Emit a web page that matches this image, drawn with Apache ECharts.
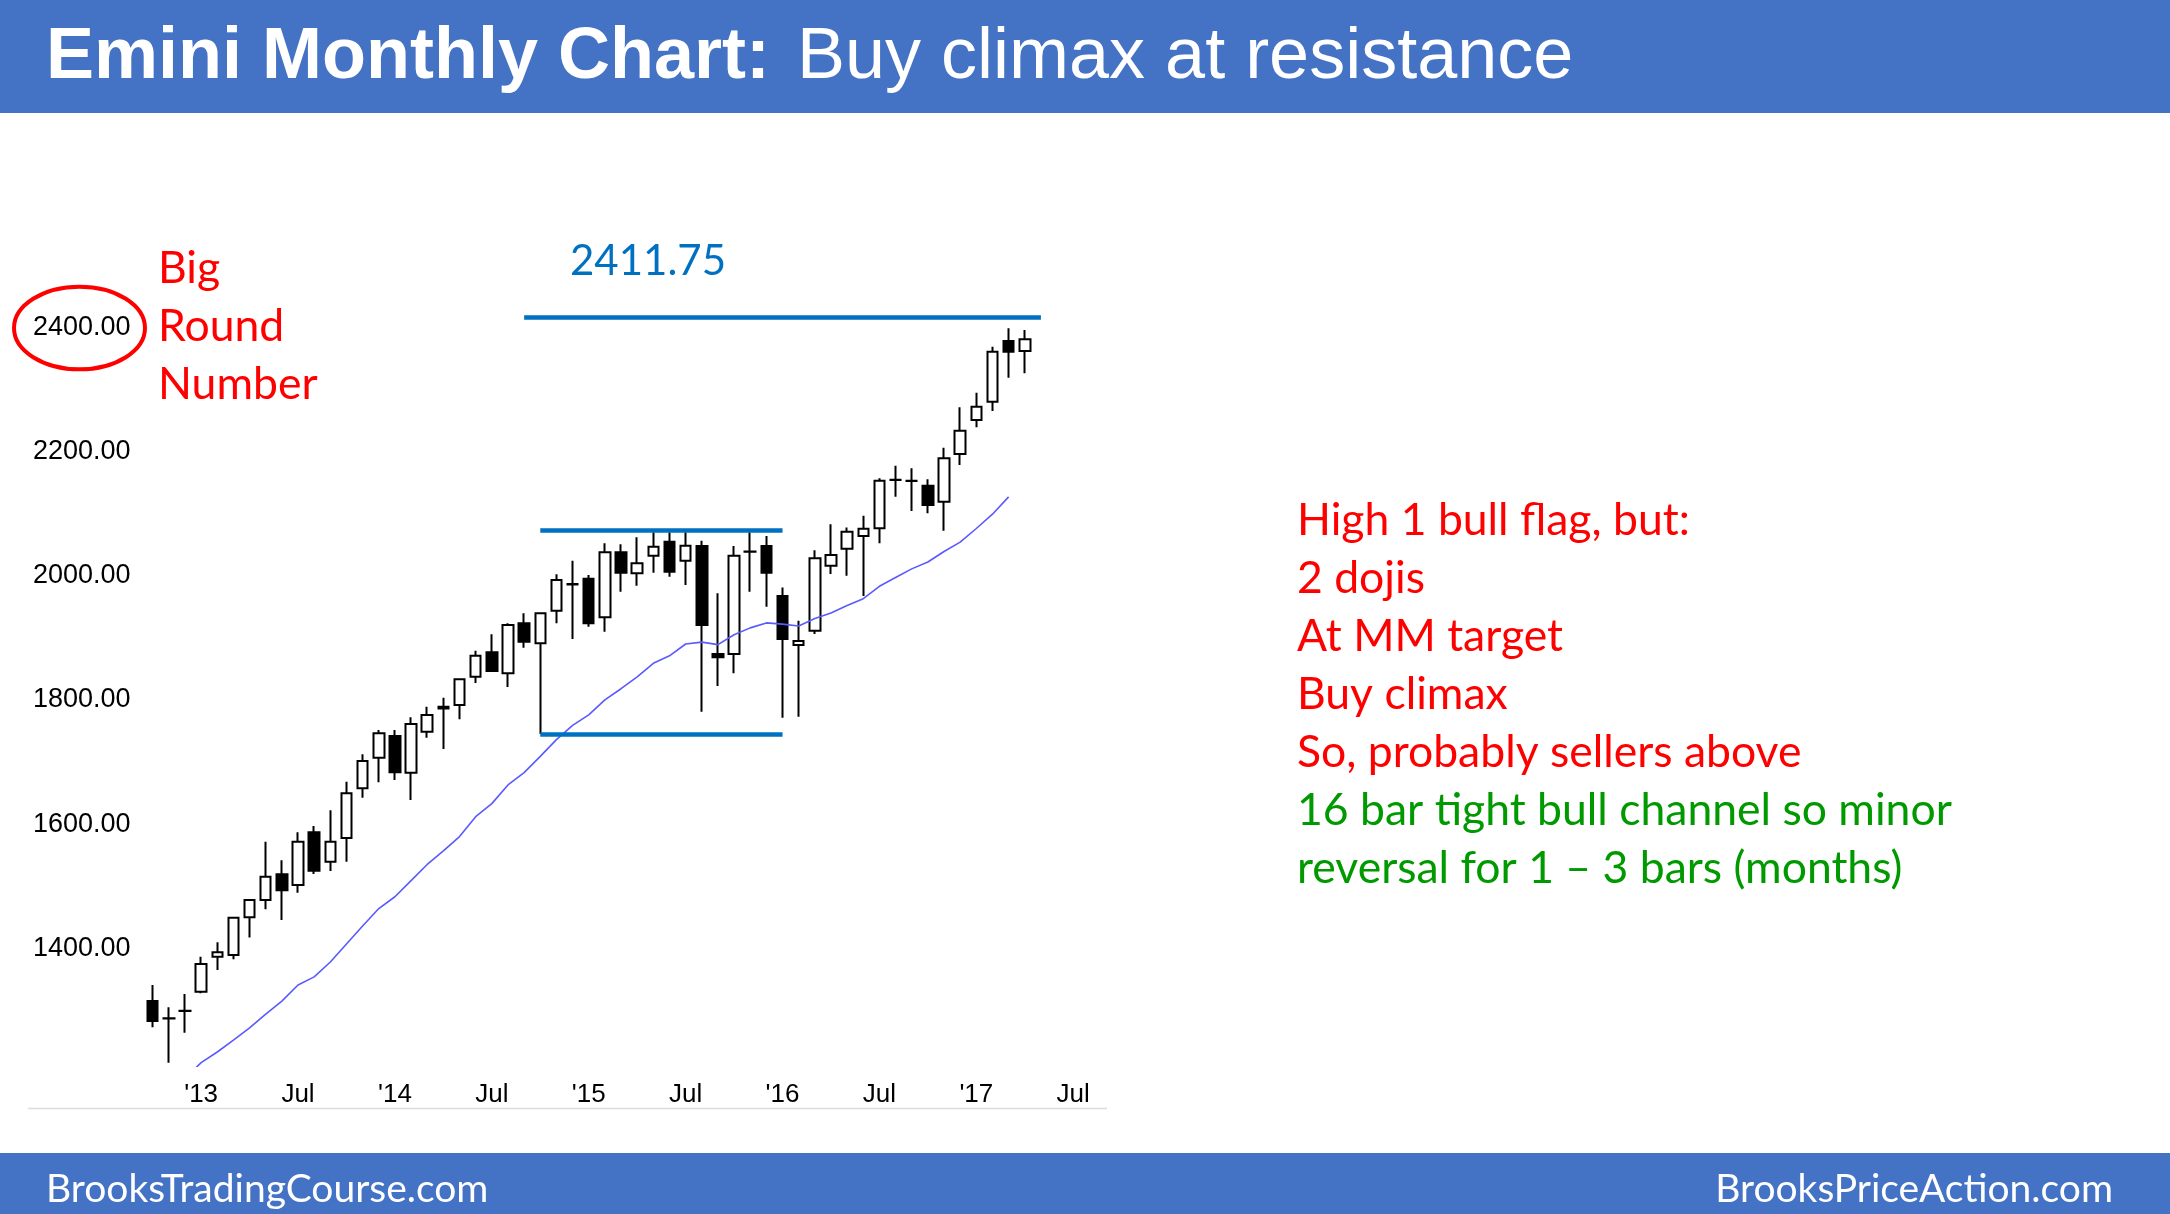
<!DOCTYPE html>
<html><head><meta charset="utf-8">
<script src="https://cdn.jsdelivr.net/npm/echarts@6/dist/echarts.min.js"></script>
<style>html,body{margin:0;padding:0;background:#fff}#c{width:2170px;height:1214px}</style>
</head><body><div id="c"></div>
<script>
// Monthly categories (Oct 2012 .. Sep 2017)
const months = ['2012-10','2012-11','2012-12',
 '2013-01','2013-02','2013-03','2013-04','2013-05','2013-06','2013-07','2013-08','2013-09','2013-10','2013-11','2013-12',
 '2014-01','2014-02','2014-03','2014-04','2014-05','2014-06','2014-07','2014-08','2014-09','2014-10','2014-11','2014-12',
 '2015-01','2015-02','2015-03','2015-04','2015-05','2015-06','2015-07','2015-08','2015-09','2015-10','2015-11','2015-12',
 '2016-01','2016-02','2016-03','2016-04','2016-05','2016-06','2016-07','2016-08','2016-09','2016-10','2016-11','2016-12',
 '2017-01','2017-02','2017-03','2017-04','2017-05','2017-06','2017-07','2017-08','2017-09'];
const xTickLabels = {'2013-01':"'13",'2013-07':'Jul','2014-01':"'14",'2014-07':'Jul','2015-01':"'15",'2015-07':'Jul',
 '2016-01':"'16",'2016-07':'Jul','2017-01':"'17",'2017-07':'Jul'};
const yTickLabels = [1400,1600,1800,2000,2200,2400];

const opens  = [1315.1,1287,1299,1330.1,1386.5,1389.2,1449.9,1477.8,1519.1,1501.9,1586.7,1539.5,1577.6,1657.6,1707.0,
 1741.9,1682.8,1748.9,1789,1791.8,1837.4,1876.6,1842.8,1923.3,1891.1,1943.7,1986.5,
 1995.2,1932.9,2037.6,2003.8,2032.2,2054.8,2024.2,2047.8,1873.9,1873.9,2038.5,2047.8,
 1967.3,1888.4,1911.5,2016.2,2043.5,2063.9,2076.3,2154,2152.5,2145.0,2119.2,2196.0,
 2250.7,2280.3,2378.0,2361.9];
const closes = [1282.9,1287.5,1299.5,1374.7,1393.5,1449.3,1477.8,1515.3,1493.3,1571.7,1525.0,1571.7,1649.6,1701.6,1746.2,
 1683.4,1761.2,1775.7,1786,1833.1,1871.3,1846.6,1920.6,1893.8,1939.4,1993.1,1986,
 1923.3,2037.6,2004.9,2019.9,2046.7,2006.5,2048.3,1920.6,1868.5,2032.2,2039,2004.9,
 1898.0,1894.8,2028.0,2033.3,2070.9,2075.5,2153.0,2154.5,2153,2113.9,2189.0,2233.6,
 2272.2,2360.8,2360.8,2380.6];
const lows   = [1272.7,1215.8,1264.1,1327.5,1365.0,1382.2,1417.6,1462.7,1445.6,1489.6,1519.6,1524.5,1539.5,1642.6,1667.3,
 1671.0,1638.8,1739.2,1720.9,1768.7,1827.2,1845.0,1820.8,1884.1,1745,1923.3,1898.0,
 1917.9,1909.9,1974.3,1983.9,2004.9,1998.4,1985.0,1781.0,1822.4,1842.8,1974.3,1950.1,
 1771.4,1773.0,1906.1,2002.7,2000,1967.3,2052.1,2127.3,2104.2,2100.4,2072.5,2178.3,
 2238.9,2265.2,2318.9,2325.9];
const highs  = [1340.9,1304.9,1326.4,1386.5,1409.6,1450.9,1479.4,1571.7,1541.6,1586.7,1596.9,1622.2,1668.3,1712.4,1751.6,
 1751.6,1772.0,1789.1,1803.6,1834.5,1879.3,1905.6,1923.3,1939.4,1940.5,2002.2,2024.2,
 2001.1,2052.1,2050.5,2061.8,2070,2070,2070,2056.4,1971.6,2047.8,2070,2063.9,
 1981.2,1927.6,2041.0,2082.9,2077.5,2096.7,2156.8,2177.2,2172.9,2155.2,2206.2,2271.1,
 2294.8,2368.8,2398.4,2395.7];
// 20-bar moving average as drawn
const ma20 = [null,null,1190,1216,1233,1252,1272,1294,1315,1341,1354,1378,1407,1436,1464,
 1483,1509,1535,1557,1580,1612,1633,1663,1683,1709,1736,1759,
 1776,1800,1818,1837,1859,1871,1890,1893,1889,1905,1916,1924,
 1922,1919,1931,1940,1952,1963,1983,1997,2011,2022,2039,2054,
 2076,2099,2127,null];

// annotation lines
const resistanceLine = {value: 2416, from: 23, to: 55.35};
const rangeTop = {value: 2073.6, from: 24, to: 39.1};
const rangeBottom = {value: 1745, from: 24, to: 39.1};
const resistanceText = '2411.75';
const roundNumberText = ['Big','Round','Number'];
const redNotes = ['High 1 bull flag, but:','2 dojis','At MM target','Buy climax','So, probably sellers above'];
const greenNotes = ['16 bar tight bull channel so minor','reversal for 1 \u2013 3 bars (months)'];

const candles = opens.map((o,i)=>[o, closes[i], lows[i], highs[i]]);
const seg = d => [{coord:[d.from, d.value]}, {coord:[d.to, d.value]}];

const BLUE = '#0070C0', BAR = '#4472C4';
const noteFont = '44.5px Lato';
const footFont = '39px Lato';
const graphics = [
  {type:'rect', shape:{x:0,y:0,width:2170,height:113}, style:{fill:BAR}, z:10},
  {type:'rect', shape:{x:0,y:1153,width:2170,height:61}, style:{fill:BAR}, z:10},
  {type:'text', x:46, y:58, z:11, style:{text:'Emini Monthly Chart:', fill:'#fff', font:'bold 72px "Liberation Sans", Arial', textVerticalAlign:'middle'}},
  {type:'text', x:797, y:58, z:11, style:{text:'Buy climax at resistance', fill:'#fff', font:'72px "Liberation Sans", Arial', textVerticalAlign:'middle'}},
  {type:'text', x:46, y:1189, z:11, style:{text:'BrooksTradingCourse.com', fill:'#fff', font:footFont, textVerticalAlign:'middle'}},
  {type:'text', x:2113, y:1189, z:11, style:{text:'BrooksPriceAction.com', fill:'#fff', font:footFont, textAlign:'right', textVerticalAlign:'middle'}},
  {type:'line', shape:{x1:28,y1:1108.5,x2:1107,y2:1108.5}, style:{stroke:'#dcdcdc', lineWidth:1.5}},
  {type:'ellipse', shape:{cx:79.5, cy:328, rx:65.5, ry:41.3}, style:{fill:null, stroke:'#ff0000', lineWidth:4}, z:5},
  {type:'text', x:570, y:261.6, style:{text:resistanceText, fill:BLUE, font:'42px Lato', textVerticalAlign:'middle'}}
];
roundNumberText.forEach((t,i)=>graphics.push({type:'text', x:158, y:269+i*58, style:{text:t, fill:'#ff0000', font:noteFont, textVerticalAlign:'middle'}}));
redNotes.forEach((t,i)=>graphics.push({type:'text', x:1297, y:520.5+i*58.1, style:{text:t, fill:'#ff0000', font:noteFont, textVerticalAlign:'middle'}}));
greenNotes.forEach((t,i)=>graphics.push({type:'text', x:1297, y:520.5+(i+5)*58.1, style:{text:t, fill:'#009a00', font:noteFont, textVerticalAlign:'middle'}}));

const chart = echarts.init(document.getElementById('c'), null, {renderer:'canvas'});
chart.setOption({
  animation:false,
  backgroundColor:'#ffffff',
  grid:{left:144.6, right:1056.4, top:265.2, bottom:147.7, outerBoundsMode:'none'},
  xAxis:{type:'category', data:months, boundaryGap:true,
    axisLine:{show:false}, axisTick:{show:false}, splitLine:{show:false},
    axisLabel:{interval:0, margin:16, color:'#000', fontSize:26, fontFamily:'"Liberation Sans", Arial',
      formatter:v=>xTickLabels[v]||''}},
  yAxis:{type:'value', min:1210, max:2500, interval:10, scale:true,
    axisLine:{show:false}, axisTick:{show:false}, splitLine:{show:false},
    axisLabel:{margin:14, color:'#000', fontSize:27, fontFamily:'"Liberation Sans", Arial',
      formatter:v=>{const r=Math.round(v); return yTickLabels.indexOf(r)>=0 ? r.toFixed(2) : '';}}},
  series:[
    {type:'candlestick', data:candles, barWidth:11, z:3,
      itemStyle:{color:'#ffffff', color0:'#000000', borderColor:'#000000', borderColor0:'#000000', borderWidth:2},
      markLine:{symbol:['none','none'], silent:true, label:{show:false}, z:6,
        lineStyle:{color:BLUE, width:4.5, type:'solid'},
        data:[seg(resistanceLine), seg(rangeTop), seg(rangeBottom)]}},
    {type:'line', data:ma20, showSymbol:false, symbol:'none', z:4, clip:true,
      lineStyle:{color:'#5a5aff', width:1.6}}
  ],
  graphic:graphics
});
</script></body></html>
